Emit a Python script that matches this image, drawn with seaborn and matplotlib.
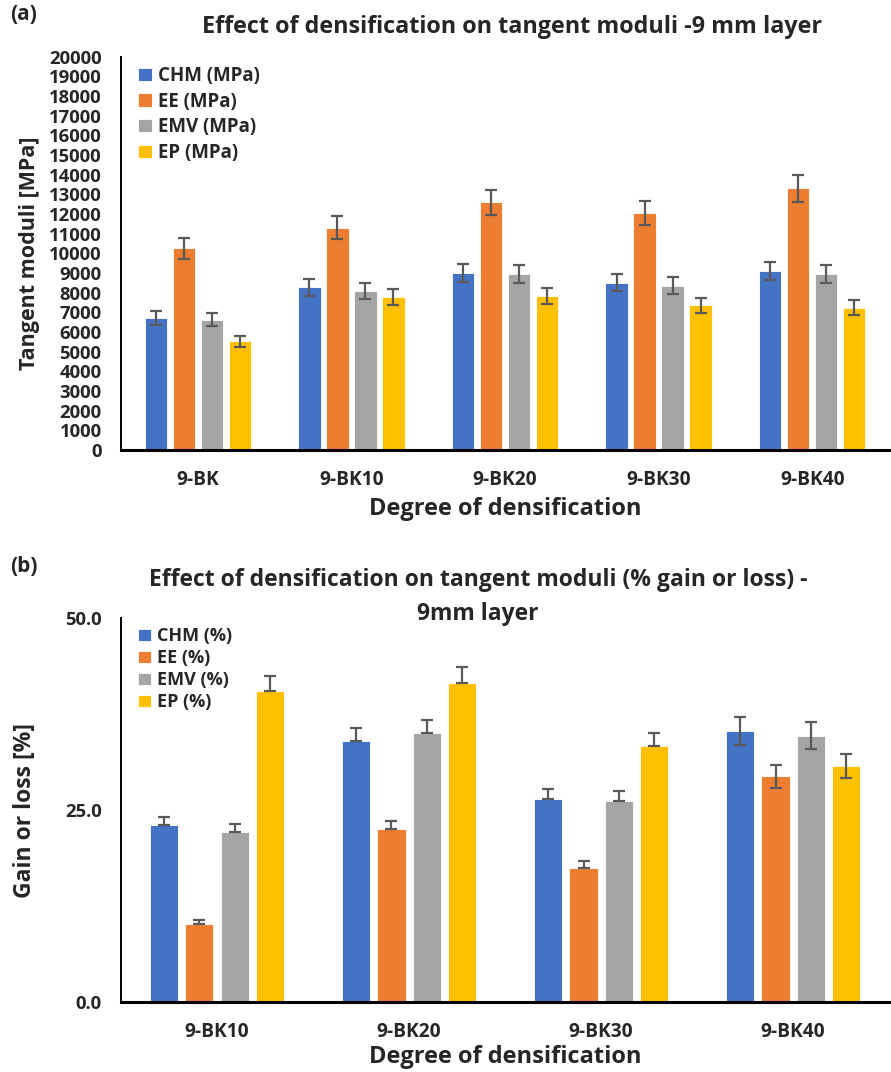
import matplotlib
matplotlib.use("Agg")
import matplotlib.pyplot as plt
import seaborn as sns
import pandas as pd
import numpy as np

# ---------------- data ----------------
cats_a = ["9-BK", "9-BK10", "9-BK20", "9-BK30", "9-BK40"]
series_a = ["CHM (MPa)", "EE (MPa)", "EMV (MPa)", "EP (MPa)"]
chm_a = [6730, 8270, 9010, 8510, 9100]
ee_a = [10250, 11300, 12590, 12050, 13300]
emv_a = [6630, 8100, 8950, 8350, 8930]
ep_a = [5530, 7780, 7830, 7370, 7240]
chm_a_err = [360, 420, 460, 430, 465]
ee_a_err = [525, 585, 635, 620, 685]
emv_a_err = [340, 405, 460, 430, 455]
ep_a_err = [280, 405, 405, 380, 380]

cats_b = ["9-BK10", "9-BK20", "9-BK30", "9-BK40"]
series_b = ["CHM (%)", "EE (%)", "EMV (%)", "EP (%)"]
chm_b = [23.0, 34.0, 26.4, 35.3]
ee_b = [10.1, 22.5, 17.4, 29.4]
emv_b = [22.1, 35.0, 26.2, 34.7]
ep_b = [40.5, 41.5, 33.4, 30.7]
chm_b_up = [1.1, 1.7, 1.35, 1.8]
ee_b_up = [0.5, 1.1, 0.9, 1.5]
emv_b_up = [1.1, 1.8, 1.3, 1.75]
ep_b_up = [2.0, 2.1, 1.7, 1.55]
chm_b_lo = [0, 0, 0, 1.8]
ee_b_lo = [0, 0, 0, 1.5]
emv_b_lo = [0, 0, 0, 1.75]
ep_b_lo = [0, 0, 0, 1.55]

colors = ["#4472C4", "#ED7D31", "#A5A5A5", "#FFC000"]

# ---------------- style ----------------
sns.set_style("white")
plt.rcParams["font.family"] = ["Open Sans", "DejaVu Sans"]
plt.rcParams["font.weight"] = "bold"

fig = plt.figure(figsize=(8.91, 10.72), dpi=100)
ax1 = fig.add_axes([0.1358, 0.5802, 0.862, 0.3669])
ax2 = fig.add_axes([0.1358, 0.0656, 0.862, 0.3576])


def long_df(cats, series, values):
    rows = []
    for s, vals in zip(series, values):
        for c, v in zip(cats, vals):
            rows.append({"cat": c, "series": s, "value": v})
    return pd.DataFrame(rows)


def draw(ax, cats, series, values, err_lo, err_hi, legsize, legspace):
    df = long_df(cats, series, values)
    sns.barplot(data=df, x="cat", y="value", hue="series", order=cats,
                hue_order=series, palette=colors, width=0.73, gap=0.2,
                errorbar=None, edgecolor="white", linewidth=0.6, ax=ax,
                saturation=1)
    for cont, lo, hi in zip(ax.containers, err_lo, err_hi):
        xs = [p.get_x() + p.get_width() / 2 for p in cont.patches]
        hs = [p.get_height() for p in cont.patches]
        ax.errorbar(xs, hs, yerr=[lo, hi], fmt="none", ecolor="#595959",
                    elinewidth=1.6, capsize=4, capthick=1.6, zorder=5)
    for side in ["top", "right"]:
        ax.spines[side].set_visible(False)
    ax.spines["left"].set_color("black")
    ax.spines["left"].set_linewidth(1.4)
    ax.spines["bottom"].set_color("black")
    ax.spines["bottom"].set_linewidth(2.2)
    ax.tick_params(axis="both", length=0, labelsize=13.3)
    ax.tick_params(axis="y", pad=14)
    ax.tick_params(axis="x", pad=14.5, labelsize=13.8)
    for t in ax.get_xticklabels():
        t.set_fontweight("bold")
    ax.set_xlim(-0.5, len(cats) - 0.5)
    leg = ax.legend(loc="upper left", bbox_to_anchor=(0.008, 1.005), frameon=False,
                    fontsize=legsize, handlelength=0.7, handleheight=0.7,
                    handletextpad=0.35, labelspacing=legspace, borderaxespad=0.2)
    for t in leg.get_texts():
        t.set_fontweight("bold")


draw(ax1, cats_a, series_a, [chm_a, ee_a, emv_a, ep_a],
     [chm_a_err, ee_a_err, emv_a_err, ep_a_err],
     [chm_a_err, ee_a_err, emv_a_err, ep_a_err], 13.5, 0.3)
ax1.set_ylim(0, 20000)
ax1.set_yticks(np.arange(0, 20001, 1000))
for t in ax1.get_yticklabels():
    t.set_fontweight("bold")
ax1.set_ylabel("Tangent moduli [MPa]", fontsize=15.5, fontweight="bold", labelpad=6)
ax1.set_xlabel("Degree of densification", fontsize=17, fontweight="bold", labelpad=5)

draw(ax2, cats_b, series_b, [chm_b, ee_b, emv_b, ep_b],
     [chm_b_lo, ee_b_lo, emv_b_lo, ep_b_lo],
     [chm_b_up, ee_b_up, emv_b_up, ep_b_up], 13.0, 0.22)
ax2.set_ylim(0, 50)
ax2.set_yticks([0, 25, 50])
ax2.set_yticklabels(["0.0", "25.0", "50.0"])
for t in ax2.get_yticklabels():
    t.set_fontweight("bold")
ax2.set_ylabel("Gain or loss [%]", fontsize=16.5, fontweight="bold", labelpad=20)
ax2.set_xlabel("Degree of densification", fontsize=17, fontweight="bold", labelpad=2)

fig.text(512 / 891, 1 - 27 / 1072, "Effect of densification on tangent moduli -9 mm layer",
         ha="center", va="center", fontsize=16.8, fontweight="bold")
fig.text(478 / 891, 1 - 597 / 1072,
         "Effect of densification on tangent moduli (% gain or loss) -\n9mm layer",
         ha="center", va="center", fontsize=16.5, fontweight="bold", linespacing=1.55)
fig.text(10 / 891, 1 - 15 / 1072, "(a)", ha="left", va="center", fontsize=15, fontweight="bold")
fig.text(10 / 891, 1 - 567 / 1072, "(b)", ha="left", va="center", fontsize=15, fontweight="bold")

fig.savefig("out.png", dpi=100)
